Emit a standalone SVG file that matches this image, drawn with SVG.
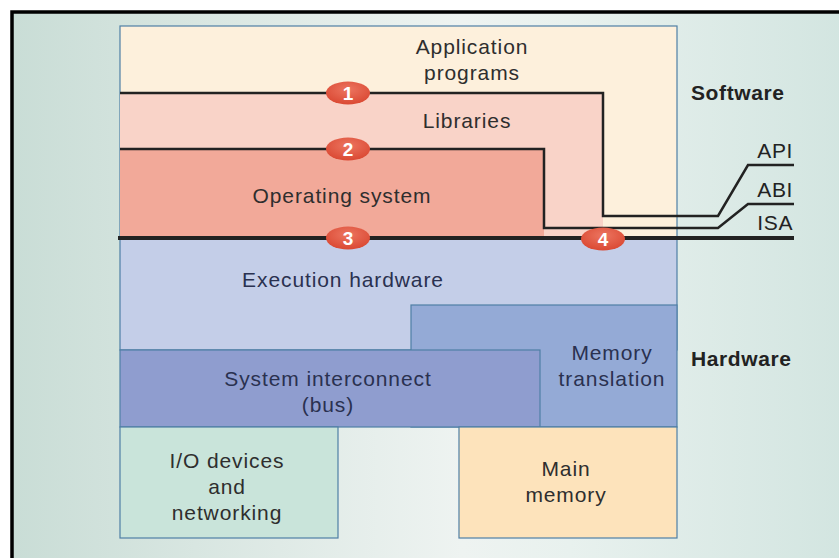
<svg xmlns="http://www.w3.org/2000/svg" width="839" height="558" viewBox="0 0 839 558">
<defs>
<linearGradient id="bg" x1="0" y1="0" x2="1" y2="0">
<stop offset="0" stop-color="#c9ddd6"/>
<stop offset="0.5" stop-color="#eef3f1"/>
<stop offset="0.62" stop-color="#e8f1ee"/>
<stop offset="1" stop-color="#cde2dd"/>
</linearGradient>
<radialGradient id="badge" cx="0.5" cy="0.35" r="0.7">
<stop offset="0" stop-color="#ec7560"/>
<stop offset="1" stop-color="#d9452f"/>
</radialGradient>
</defs>
<style>
.t{font-family:"Liberation Sans",Arial,sans-serif;font-size:21px;letter-spacing:0.9px;fill:#2e2e2e;text-anchor:middle}
.h{fill:#2a3150}
.b{font-family:"Liberation Sans",Arial,sans-serif;font-size:21px;font-weight:bold;letter-spacing:0.6px;fill:#222}
.r{font-family:"Liberation Sans",Arial,sans-serif;font-size:21px;letter-spacing:0.6px;fill:#222;text-anchor:end}
.box{stroke:#4f7fa5;stroke-width:1.2}
.ln{fill:none;stroke:#222;stroke-width:2.5}
.badge ellipse{fill:url(#badge)}
.badge text{font-family:"Liberation Sans",Arial,sans-serif;font-size:19px;font-weight:bold;fill:#fff;text-anchor:middle}
</style>
<rect x="0" y="0" width="839" height="558" fill="#ffffff"/>
<rect x="12" y="12" width="900" height="600" fill="url(#bg)" stroke="#000" stroke-width="3.5"/>

<g id="application">
<rect class="box" x="120" y="26" width="557" height="212" fill="#fdf0dc"/>
<text class="t" x="472" y="54">Application</text>
<text class="t" x="472" y="80">programs</text>
</g>
<g id="libraries">
<rect x="120" y="93" width="483" height="145" fill="#f9d3c8"/>
<text class="t" x="467" y="128">Libraries</text>
</g>
<g id="os">
<rect x="120" y="149" width="424" height="89" fill="#f2a999"/>
<text class="t" x="342" y="203">Operating system</text>
</g>
<g id="execution">
<rect class="box" x="120" y="238" width="557" height="112" fill="#c4cee8"/>
<text class="t h" x="343" y="287">Execution hardware</text>
</g>
<g id="memtrans">
<rect class="box" x="411" y="305" width="266" height="122" fill="#94aad6"/>
<text class="t h" x="612" y="360">Memory</text>
<text class="t h" x="612" y="386">translation</text>
</g>
<g id="interconnect">
<rect class="box" x="120" y="350" width="420" height="77" fill="#8f9dcf"/>
<text class="t h" x="328" y="386">System interconnect</text>
<text class="t h" x="328" y="412">(bus)</text>
</g>
<g id="io">
<rect class="box" x="120" y="427" width="218" height="111" fill="#c9e4da"/>
<text class="t" x="227" y="468">I/O devices</text>
<text class="t" x="227" y="494">and</text>
<text class="t" x="227" y="520">networking</text>
</g>
<g id="mainmem">
<rect class="box" x="459" y="427" width="218" height="111" fill="#fde3bb"/>
<text class="t" x="566" y="476">Main</text>
<text class="t" x="566" y="502">memory</text>
</g>

<g id="connectors">
<polyline class="ln" points="120,93 603,93 603,216 718,216 748,165 794,165"/>
<polyline class="ln" points="120,149 544,149 544,228 718,228 748,204 794,204"/>
<line x1="118" y1="238" x2="794" y2="238" stroke="#222" stroke-width="4"/>
</g>

<g id="badges">
<g class="badge"><ellipse cx="348" cy="93" rx="22" ry="11.5"/><text x="348" y="100">1</text></g>
<g class="badge"><ellipse cx="348" cy="149" rx="22" ry="11.5"/><text x="348" y="156">2</text></g>
<g class="badge"><ellipse cx="348" cy="238" rx="22" ry="11.5"/><text x="348" y="245">3</text></g>
<g class="badge"><ellipse cx="603" cy="239" rx="22" ry="11.5"/><text x="603" y="246">4</text></g>
</g>

<g id="labels">
<text class="b" x="691" y="100">Software</text>
<text class="b" x="691" y="366">Hardware</text>
<text class="r" x="793" y="158">API</text>
<text class="r" x="793" y="197">ABI</text>
<text class="r" x="793" y="230">ISA</text>
</g>
</svg>
